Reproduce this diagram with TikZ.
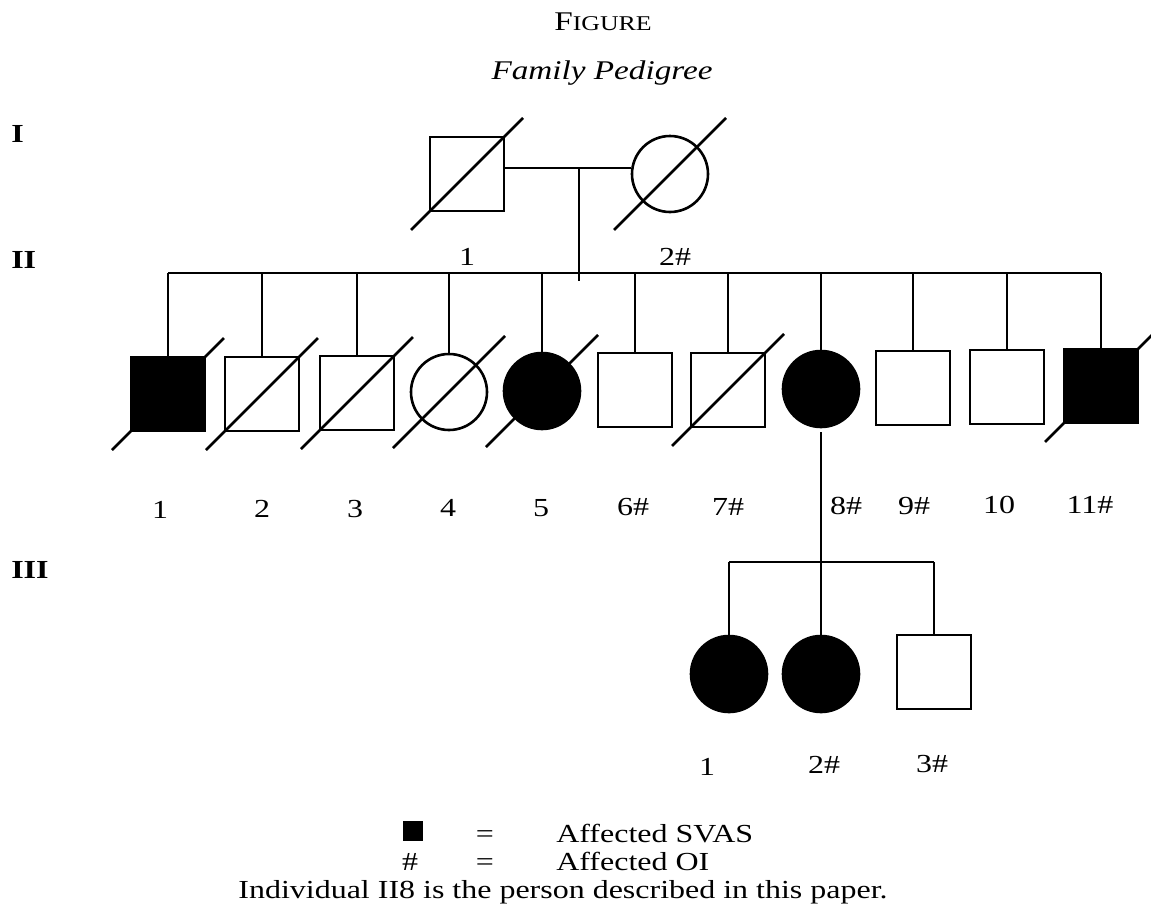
\documentclass[tikz,border=0pt]{standalone}
\usepackage{fontspec}
\setmainfont{Liberation Serif}[FakeStretch=1.23]
\usetikzlibrary{positioning, calc}

% slash through a deceased individual
\newcommand{\deadmark}[1]{\draw ($(#1.center)+(-56,56)$) -- ($(#1.center)+(56,-56)$);}

\begin{document}
\begin{tikzpicture}[
        x=0.5pt, y=-0.5pt,
        line width=1.3pt,
        male/.style={draw, rectangle, minimum size=37pt, inner sep=0pt},
        female/.style={draw, circle, minimum size=38pt, inner sep=0pt},
        affected/.style={fill=black},
        lbl/.style={font=\fontsize{13}{15}\selectfont, anchor=base, inner sep=0pt},
        gen/.style={font=\fontsize{13}{15}\selectfont\bfseries, anchor=base west, inner sep=0pt}
    ]
        \useasboundingbox (0,0) rectangle (1151,916);

        % Title
        \node[lbl] (fig) at (603,30) {\fontsize{13.5}{15}\selectfont F\fontsize{10.5}{12}\selectfont IGURE};
        \node[lbl, font=\fontsize{13.5}{15}\selectfont\itshape] (title) at (602,79) {Family Pedigree};

        % Generation numbers
        \node[gen] (genI) at (10,142) {I};
        \node[gen] (genII) at (10,268) {II};
        \node[gen] (genIII) at (10,578) {III};

        % Generation I
        \node[male] (I1) at (467,174) {};
        \node[female] (I2) at (670,174) {};
        \deadmark{I1}
        \deadmark{I2}
        \coordinate (mate) at (579,168);
        \coordinate (sibII) at (579,273);
        \draw (I1.east |- mate) -- (I2.west |- mate);
        \draw (mate) -- ($(sibII)+(0,8)$);
        \node[lbl] (lI1) at (467,265) {1};
        \node[lbl] (lI2) at (675,265) {2\#};

        % Generation II
        \node[male, affected] (II1) at (168,394) {};
        \node[male] (II2) at (262,394) {};
        \node[male] (II3) at (357,393) {};
        \node[female] (II4) at (449,392) {};
        \node[female, affected] (II5) at (542,391) {};
        \node[male] (II6) at (635,390) {};
        \node[male] (II7) at (728,390) {};
        \node[female, affected] (II8) at (821,389) {};
        \node[male] (II9) at (913,388) {};
        \node[male] (II10) at (1007,387) {};
        \node[male, affected] (II11) at (1101,386) {};

        \draw (II1.north |- sibII) -- (II11.north |- sibII);
        \foreach \i in {1,...,11}
            \draw (II\i.north) -- (II\i.north |- sibII);
        \foreach \i in {1,2,3,4,5,7,11}
            {\deadmark{II\i}}

        \foreach \i/\x/\y/\t in {1/160/518/1, 2/262/517/2, 3/355/517/3, 4/448/516/4,
                5/541/516/5, 6/633/515/6\#, 7/728/515/7\#, 8/846/514/8\#,
                9/914/514/9\#, 10/999/513/10, 11/1090/513/11\#}
            \node[lbl] (lII\i) at (\x,\y) {\t};

        % Generation III
        \node[female, affected] (III1) at (729,674) {};
        \node[female, affected] (III2) at (821,674) {};
        \node[male] (III3) at (934,672) {};
        \coordinate (sibIII) at (821,562);
        \draw ([yshift=-2pt]II8.south) -- (III2.north);
        \draw (III1.north |- sibIII) -- (III3.north |- sibIII);
        \draw (III1.north) -- (III1.north |- sibIII);
        \draw (III3.north) -- (III3.north |- sibIII);
        \node[lbl] (lIII1) at (707,775) {1};
        \node[lbl] (lIII2) at (824,773) {2\#};
        \node[lbl] (lIII3) at (932,772) {3\#};

        % Key
        \node[fill=black, minimum size=10pt, inner sep=0pt, anchor=south] (keysq) at (413,842) {};
        \node[lbl] (keyeq1) at (485,842) {=};
        \node[lbl, anchor=base west] (keytxt1) at (555,842) {Affected SVAS};
        \node[lbl] (keyhash) at (410,870) {\#};
        \node[lbl] (keyeq2) at (485,870) {=};
        \node[lbl, anchor=base west] (keytxt2) at (555,870) {Affected OI};
        \node[lbl] (note) at (563,898) {Individual II8 is the person described in this paper.};

    \end{tikzpicture}
\end{document}
